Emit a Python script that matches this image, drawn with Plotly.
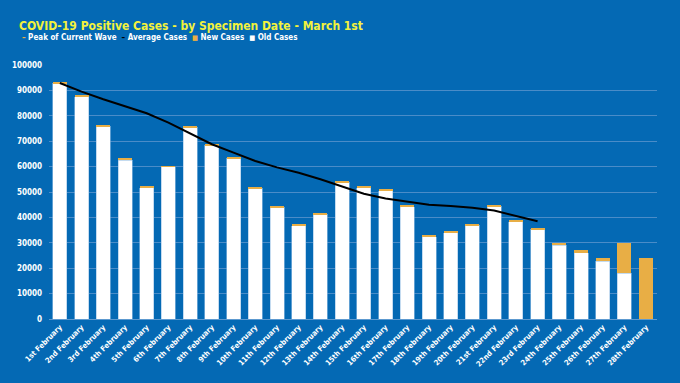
import plotly.graph_objects as go

def ordinal(n):
    if 10 <= n % 100 <= 20:
        suf = "th"
    else:
        suf = {1: "st", 2: "nd", 3: "rd"}.get(n % 10, "th")
    return f"{n}{suf} February"

categories = [ordinal(d) for d in range(1, 29)]

old_cases = [92800, 87600, 75800, 62600, 51700, 59900, 75400, 68500, 63200, 51500,
             43900, 36800, 41200, 53800, 51700, 50500, 44100, 32400, 34000, 37000,
             44300, 38200, 35400, 29000, 26000, 22700, 18100, 0]
new_cases = [500, 600, 450, 400, 300, 300, 500, 400, 450, 350,
             300, 300, 400, 500, 300, 400, 400, 400, 400, 400,
             450, 400, 550, 1050, 1150, 1450, 11700, 23900]
average_cases = [92900, 89500, 86500, 83900, 81000, 77300, 73100, 68800, 65500, 62200,
                 59700, 57600, 55000, 52300, 49300, 47400, 46300, 45000, 44500, 43800,
                 42700, 40700, 38500] + [None] * 5

legend_names = ["Peak of Current Wave", "Average Cases", "New Cases", "Old Cases"]
y_ticks = list(range(0, 100001, 10000))

BG = "#0469B4"
ORANGE = "#E8AE45"
FONT = "DejaVu Sans Condensed, DejaVu Sans"

fig = go.Figure()
fig.add_trace(go.Bar(x=categories, y=old_cases, name=legend_names[3],
                     marker=dict(color="white", line=dict(color="#9CC3E6", width=0.6)),
                     showlegend=False))
fig.add_trace(go.Bar(x=categories, y=new_cases, name=legend_names[2],
                     marker=dict(color=ORANGE, line=dict(color=ORANGE, width=0)),
                     showlegend=False))
fig.add_trace(go.Scatter(x=categories, y=average_cases, name=legend_names[1], mode="lines",
                         line=dict(color="black", width=2), showlegend=False))

sp = "&nbsp;"
legend_text = (
    f"<span style='color:{ORANGE}'>–</span> {legend_names[0]}{sp} "
    f"<span style='color:black'>–</span> {legend_names[1]}{sp} "
    f"<span style='color:{ORANGE};font-size:7px'>■</span> {legend_names[2]}{sp} "
    f"<span style='color:white;font-size:7px'>■</span> {legend_names[3]}"
)

fig.update_layout(
    width=680, height=383,
    paper_bgcolor=BG, plot_bgcolor=BG,
    barmode="stack", bargap=0.355,
    margin=dict(l=49, r=23, t=65, b=64),
    showlegend=False,
    title=dict(text="<b>COVID-19 Positive Cases - by Specimen Date - March 1st</b>",
               x=0.028, xanchor="left", y=0.932, yanchor="middle",
               font=dict(family=FONT, size=12, color="#F2F23C")),
    annotations=[dict(text=f"<b>{legend_text}</b>", xref="paper", yref="paper",
                      x=-0.0477, xanchor="left", y=1.11, yanchor="middle",
                      showarrow=False, font=dict(family=FONT, size=8, color="white"))],
    font=dict(family=FONT, color="white"),
    xaxis=dict(tickangle=-45, tickfont=dict(size=7.5, color="white", family=FONT),
               showline=True, linecolor="#5D9AD0", linewidth=1, showgrid=False,
               ticks=""),
    yaxis=dict(range=[0, 100000], tickvals=y_ticks, ticktext=[f"<b>{v}</b>" for v in y_ticks],
               tickfont=dict(size=8, color="white", family=FONT),
               gridcolor="#4A8CC8", gridwidth=1, zeroline=False, showline=False,
               ticks="", ticklabelstandoff=6),
)
fig.update_xaxes(ticktext=[f"<b>{c}</b>" for c in categories], tickvals=categories)

fig.write_html("out.html", config={"displayModeBar": False},
               post_script="document.body.style.margin='0px';document.body.style.padding='0px';document.body.style.overflow='hidden';")
